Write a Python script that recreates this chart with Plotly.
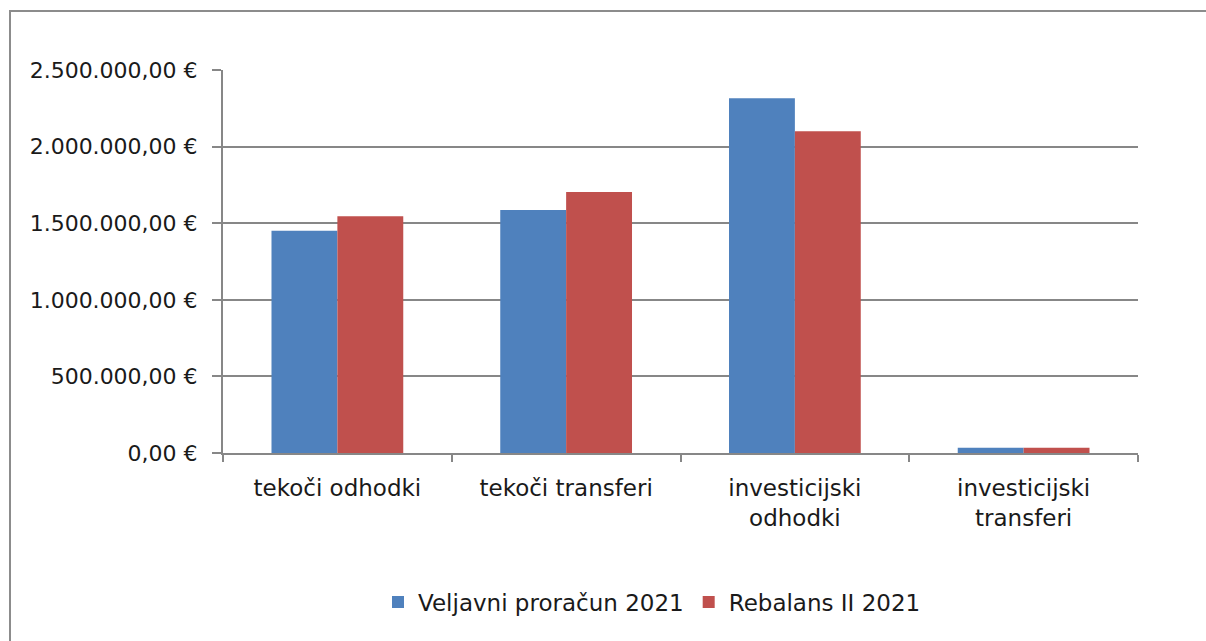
import plotly.graph_objects as go

categories = ["tekoči odhodki", "tekoči transferi", "investicijski<br>odhodki", "investicijski<br>transferi"]
veljavni = [1451000, 1586000, 2315000, 35000]
rebalans = [1545000, 1704000, 2100000, 35000]
series_names = ["Veljavni proračun 2021", "Rebalans II 2021"]
y_tickvals = [0, 500000, 1000000, 1500000, 2000000, 2500000]
y_ticktext = ["0,00 €", "500.000,00 €", "1.000.000,00 €", "1.500.000,00 €", "2.000.000,00 €", "2.500.000,00 €"]

FONT = "DejaVu Sans"
GRID = "#878787"

fig = go.Figure()
fig.add_trace(go.Bar(x=categories, y=veljavni, name=series_names[0],
                     marker=dict(color="#4F81BD", line=dict(width=0))))
fig.add_trace(go.Bar(x=categories, y=rebalans, name=series_names[1],
                     marker=dict(color="#C0504D", line=dict(width=0))))

W, H = 1206, 641
L, R, T, B = 223, 1138, 70, 453
pw, ph = R - L, B - T

def px(x):
    return (x - L) / pw

def py(y):
    return (B - y) / ph

fig.update_layout(
    width=W, height=H,
    margin=dict(l=L, r=W - R, t=T, b=H - B, pad=0),
    paper_bgcolor="white", plot_bgcolor="white",
    barmode="group", bargap=0.424, bargroupgap=0,
    font=dict(family=FONT, size=20, color="#1a1a1a"),
    showlegend=True,
    legend=dict(orientation="h", x=px(652), xanchor="center", y=py(602), yanchor="middle",
                font=dict(size=23), itemwidth=30, traceorder="normal"),
    xaxis=dict(showgrid=False, showline=True, linecolor=GRID, linewidth=2,
               ticks="outside", tickson="boundaries", ticklen=7, tickwidth=2, tickcolor=GRID,
               ticklabelstandoff=13, tickfont=dict(size=23)),
    yaxis=dict(range=[0, 2500000], tickvals=y_tickvals, ticktext=y_ticktext,
               showgrid=True, gridcolor=GRID, gridwidth=2,
               showline=True, linecolor=GRID, linewidth=2,
               ticks="outside", ticklen=9, tickwidth=2, tickcolor=GRID,
               ticklabelstandoff=10, zeroline=False, tickfont=dict(size=22)),
    shapes=[dict(type="rect", xref="paper", yref="paper",
                 x0=px(10), x1=px(1215), y0=py(650), y1=py(11),
                 line=dict(color="#8c8c8c", width=2), fillcolor="rgba(0,0,0,0)", layer="below")],
)

fig.write_html("out.html")
